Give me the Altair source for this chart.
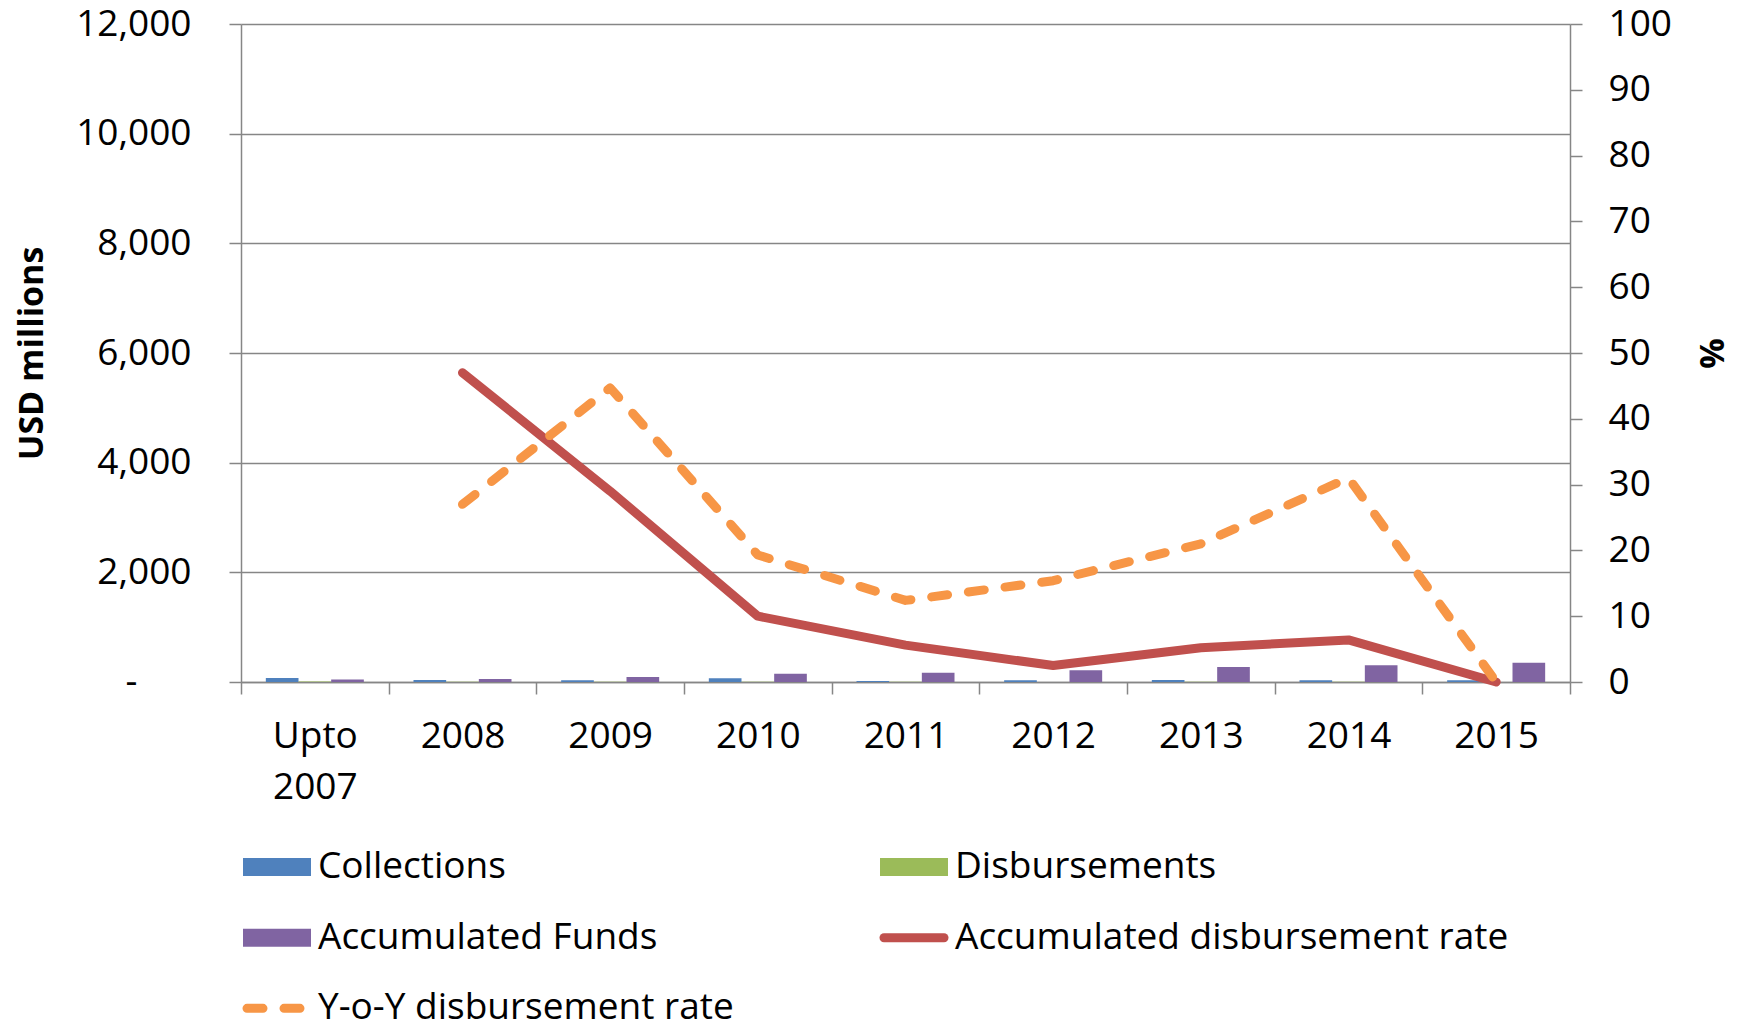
import altair as alt
import pandas as pd

categories = ["Upto 2007", "2008", "2009", "2010", "2011", "2012", "2013", "2014", "2015"]
bar_series = ["Collections", "Disbursements", "Accumulated Funds"]
collections = [75, 35, 30, 70, 20, 30, 35, 30, 30]
disbursements = [10, 5, 5, 5, 3, 2, 3, 3, 0]
accumulated_funds = [45, 55, 90, 150, 170, 215, 275, 305, 350]

line_categories = ["2008", "2009", "2010", "2011", "2012", "2013", "2014", "2015"]
accum_rate = [47, 29, 10, 5.6, 2.5, 5.2, 6.4, 0]
yoy_rate = [27, 44.7, 19.3, 12.4, 15.4, 21, 31, 0]

legend_names = ["Collections", "Disbursements", "Accumulated Funds",
                "Accumulated disbursement rate", "Y-o-Y disbursement rate"]
legend_col = [0, 1, 0, 1, 0]
legend_row = [0, 0, 1, 1, 2]
legend_kind = ["bar", "bar", "bar", "solid", "dash"]
legend_colors = ["#4F81BD", "#9BBB59", "#8064A2", "#C0504D", "#F79646"]

FONT = "Open Sans"
GRAY = "#868686"
FS = 37

rows = []
for i, c in enumerate(categories):
    for s, vals in zip(bar_series, [collections, disbursements, accumulated_funds]):
        rows.append({"cat": c, "series": s, "value": vals[i]})
bar_df = pd.DataFrame(rows)
line_df = pd.DataFrame({"cat": line_categories, "acc": accum_rate, "yoy": yoy_rate})
leg_df = pd.DataFrame({"name": legend_names, "col": legend_col, "row": legend_row,
                       "kind": legend_kind})

x_axis = alt.Axis(title=None, labelAngle=0, tickBand="extent", grid=False,
                  labelPadding=24, labelLineHeight=51,
                  labelExpr="datum.value == 'Upto 2007' ? ['Upto', '2007'] : datum.label")
x_enc = alt.X("cat:N", sort=categories,
              scale=alt.Scale(paddingInner=0, paddingOuter=0), axis=x_axis)

bars = alt.Chart(bar_df).mark_bar().encode(
    x=x_enc,
    xOffset=alt.XOffset("series:N", sort=bar_series,
                        scale=alt.Scale(paddingInner=0, paddingOuter=0.76)),
    y=alt.Y("value:Q", scale=alt.Scale(domain=[0, 12000]),
            axis=alt.Axis(title="USD millions", values=list(range(0, 12001, 2000)),
                          grid=True, labelPadding=38, titlePadding=26,
                          labelExpr="datum.value == 0 ? '-\u2800\u2800' : format(datum.value, ',')")),
    color=alt.Color("series:N", scale=alt.Scale(domain=bar_series, range=legend_colors[:3]),
                    legend=None),
)

right_axis = alt.Axis(orient="right", title="%", values=list(range(0, 101, 10)),
                      grid=False, labelPadding=26, titlePadding=21)
line_acc = alt.Chart(line_df).mark_line(
    color="#C0504D", strokeWidth=9, strokeCap="round", strokeJoin="round"
).encode(x=x_enc, y=alt.Y("acc:Q", scale=alt.Scale(domain=[0, 100]), axis=right_axis))
line_yoy = alt.Chart(line_df).mark_line(
    color="#F79646", strokeWidth=9, strokeCap="round", strokeJoin="round", strokeDash=[16, 21]
).encode(x=x_enc, y=alt.Y("yoy:Q", scale=alt.Scale(domain=[0, 100]), axis=right_axis))

main = alt.layer(bars, alt.layer(line_acc, line_yoy)).resolve_scale(
    y="independent").properties(width=1329, height=658)

LW = 1274
leg_x = alt.Scale(domain=[0, 2])
leg_y = alt.Scale(domain=[-0.27, 2.25], reverse=True)
leg_base = alt.Chart(leg_df).transform_calculate(
    x0="datum.col + (datum.kind == 'bar' ? 2 : 6) / 637",
    x1="datum.col + (datum.kind == 'bar' ? 70 : 66) / 637",
    tx="datum.col + 77 / 637",
)
leg_color = alt.Color("name:N", scale=alt.Scale(domain=legend_names, range=legend_colors),
                      legend=None)
leg_bar = leg_base.transform_filter("datum.kind == 'bar'").mark_rule(
    strokeWidth=18, strokeCap="butt").encode(
    x=alt.X("x0:Q", scale=leg_x, axis=None), x2="x1:Q",
    y=alt.Y("row:Q", scale=leg_y, axis=None), color=leg_color)
leg_solid = leg_base.transform_filter("datum.kind == 'solid'").mark_rule(
    strokeWidth=9, strokeCap="round").encode(
    x=alt.X("x0:Q", scale=leg_x, axis=None), x2="x1:Q",
    y=alt.Y("row:Q", scale=leg_y, axis=None), color=leg_color)
leg_dash = leg_base.transform_filter("datum.kind == 'dash'").mark_rule(
    strokeWidth=9, strokeCap="round", strokeDash=[16, 21]).encode(
    x=alt.X("x0:Q", scale=leg_x, axis=None), x2="x1:Q",
    y=alt.Y("row:Q", scale=leg_y, axis=None), color=leg_color)
leg_text = leg_base.mark_text(align="left", baseline="middle", fontSize=FS, font=FONT,
                              color="black").encode(
    x=alt.X("tx:Q", scale=leg_x, axis=None),
    y=alt.Y("row:Q", scale=leg_y, axis=None), text="name:N")
legend = alt.layer(leg_bar, leg_solid, leg_dash, leg_text).properties(width=LW, height=178)

chart = alt.vconcat(main, legend, spacing=43).resolve_scale(
    color="independent"
).properties(
    padding={"left": 7, "top": -3, "right": 2, "bottom": -6}
).configure_view(stroke=None).configure_axis(
    labelFont=FONT, labelFontSize=FS, labelColor="black",
    titleFont=FONT, titleFontSize=34, titleFontWeight="bold", titleColor="black",
    domainColor=GRAY, tickColor=GRAY, gridColor=GRAY,
    domainWidth=1.5, tickWidth=1.5, gridWidth=1.5, tickSize=12,
)

chart.save("out.html", embed_options={"renderer": "svg", "actions": False})
